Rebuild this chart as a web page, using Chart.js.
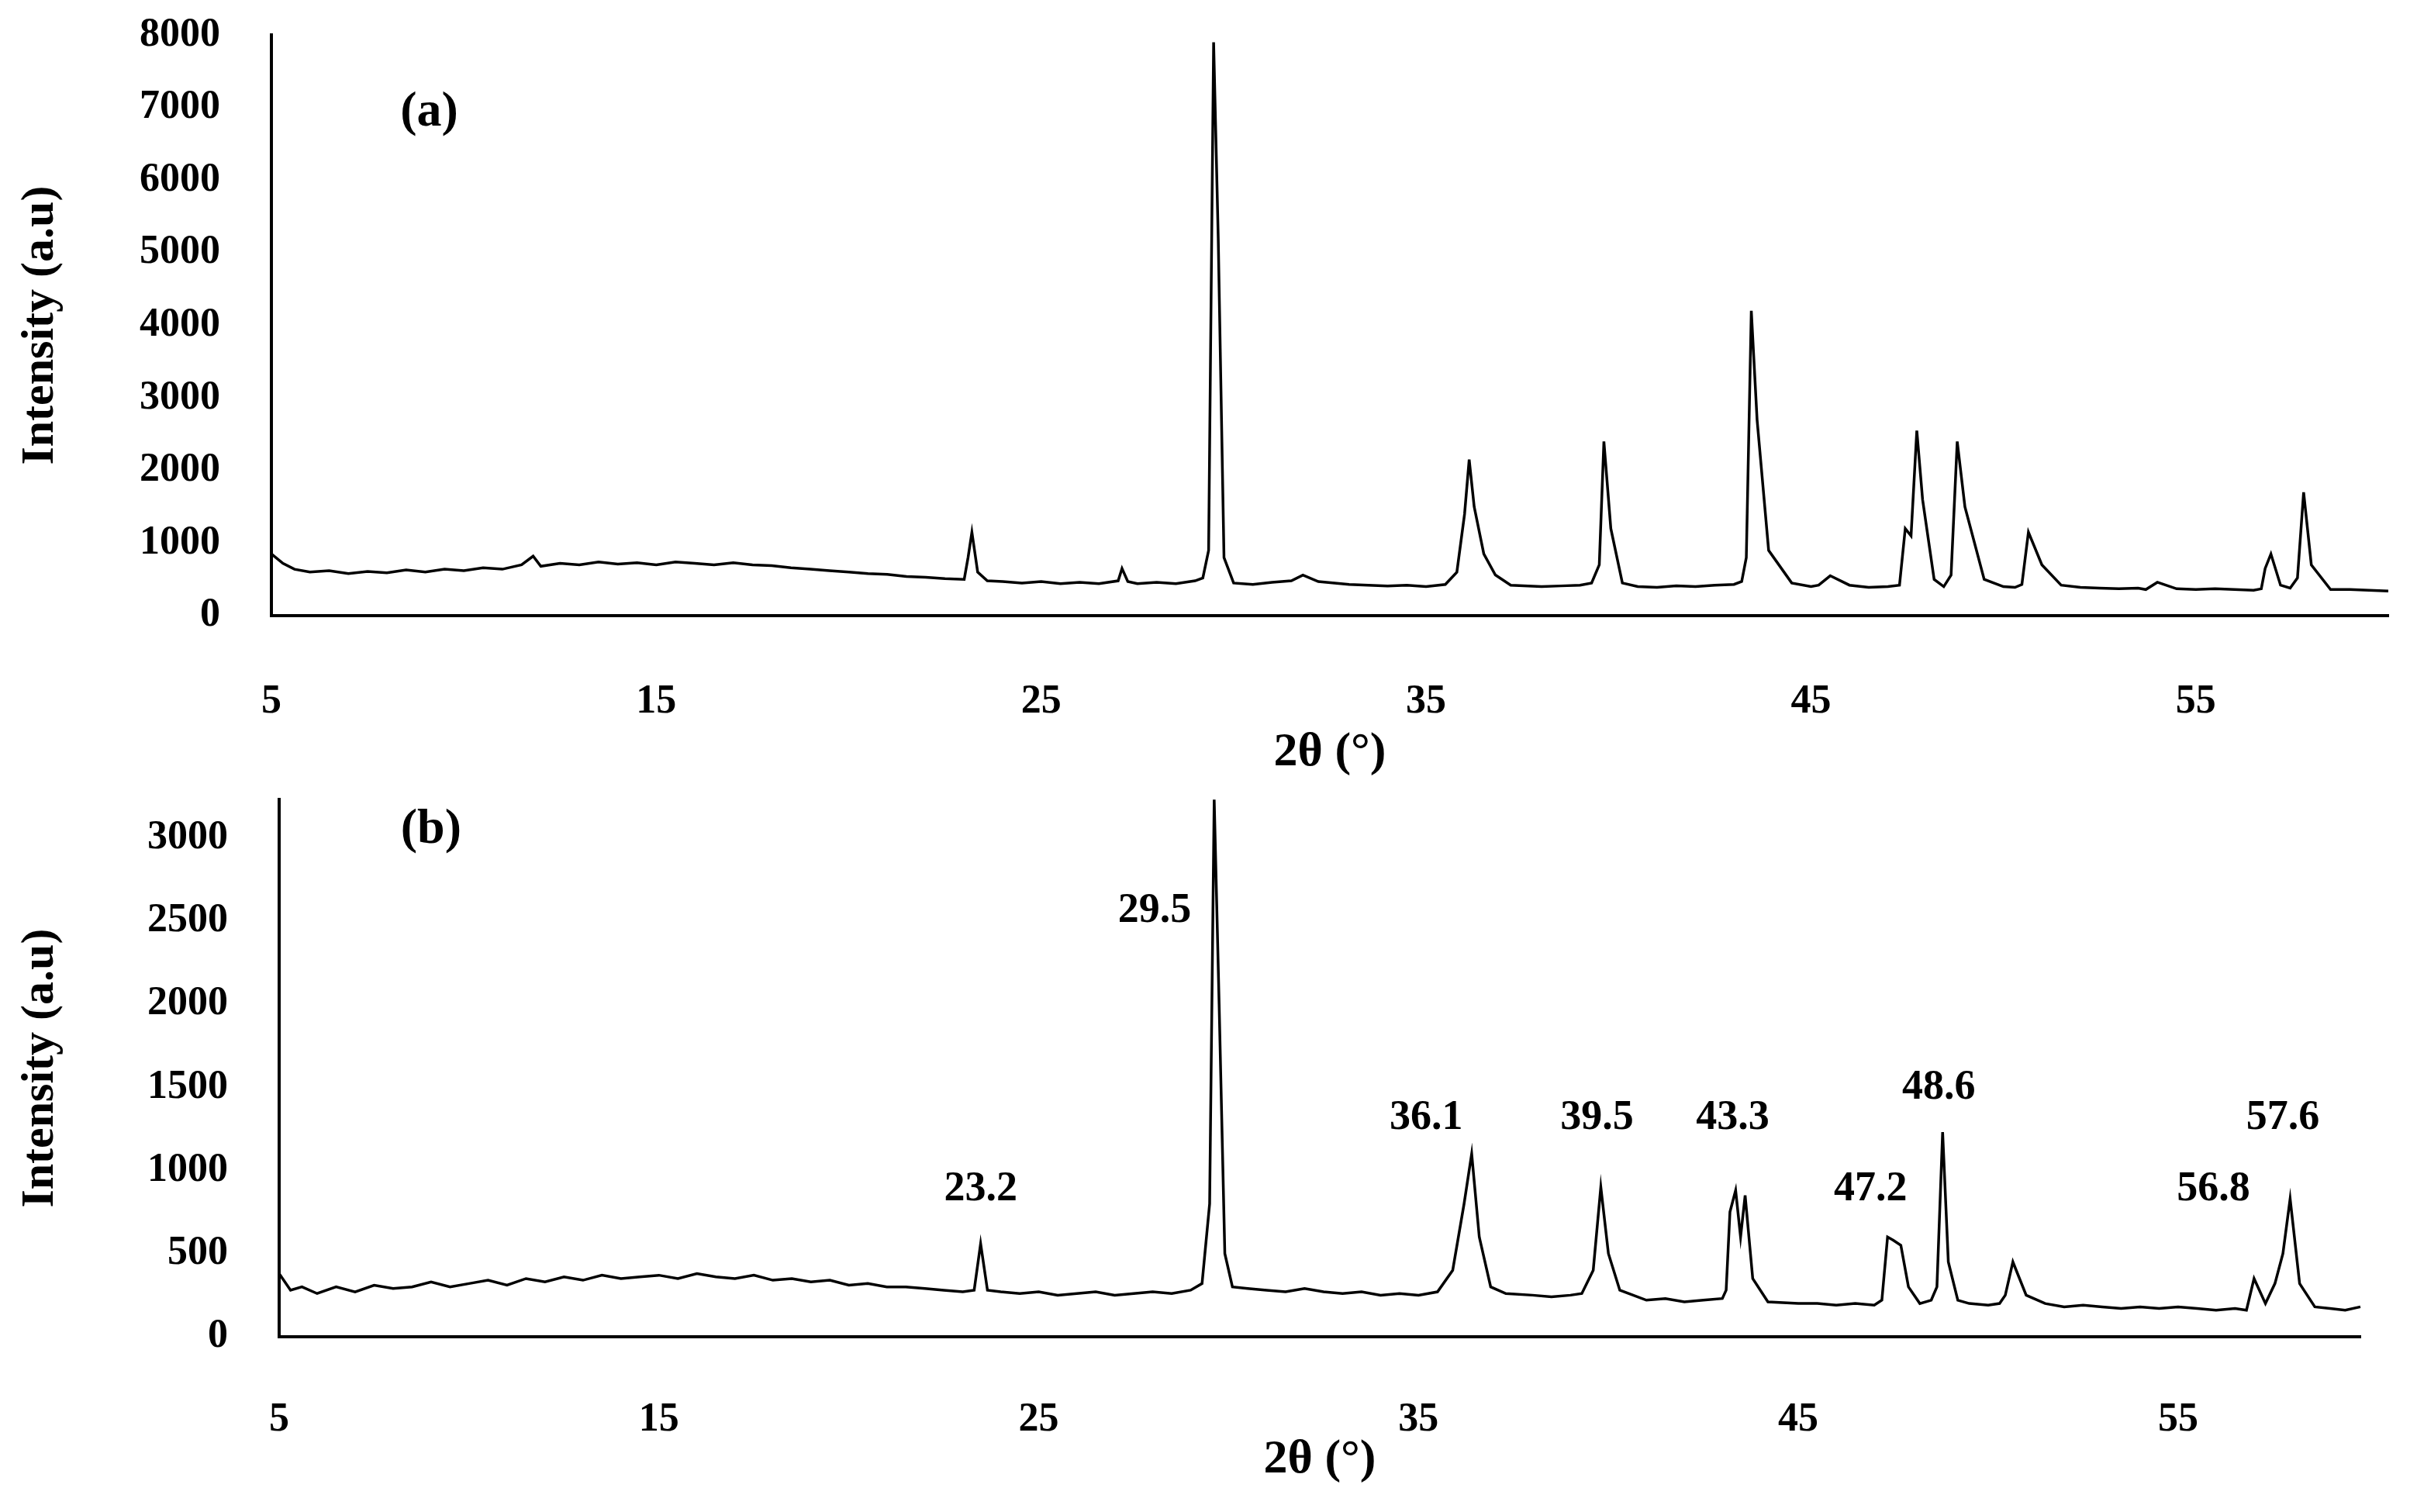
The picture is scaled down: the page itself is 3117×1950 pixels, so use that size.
<!DOCTYPE html>
<html><head><meta charset="utf-8">
<script src="https://cdn.jsdelivr.net/npm/chart.js@4.4.0/dist/chart.umd.min.js"></script>
<style>
body{margin:0;background:#fff;width:3117px;height:1950px;overflow:hidden;position:relative}
#wa{position:absolute;left:0;top:-52px;width:3117px;height:1062px}
#wb{position:absolute;left:0;top:934px;width:3117px;height:1016px}
</style></head><body>
<div id="wa"><canvas id="ca"></canvas></div>
<div id="wb"><canvas id="cb"></canvas></div>
<script>
// (a) pattern
var thetaA=[5,5.3,5.6,6,6.5,7,7.5,8,8.5,9,9.5,10,10.5,11,11.5,11.8,12,12.5,13,13.5,14,14.5,15,15.5,16,16.5,17,17.5,18,18.5,19,19.5,20,20.5,21,21.5,22,22.5,23,23.1,23.2,23.35,23.6,24,24.5,25,25.5,26,26.5,27,27.1,27.25,27.5,28,28.5,29,29.2,29.35,29.48,29.6,29.75,30,30.5,31,31.5,31.8,32.2,33,33.5,34,34.5,35,35.5,35.8,36.0,36.12,36.25,36.5,36.8,37.2,38,38.5,39,39.3,39.5,39.62,39.8,40.1,40.5,41,41.5,42,42.5,43,43.2,43.32,43.45,43.6,43.9,44.5,45,45.2,45.5,46,46.5,47,47.3,47.45,47.6,47.75,47.9,48.2,48.45,48.64,48.8,49,49.5,50,50.3,50.48,50.65,51,51.5,52,52.5,53,53.5,53.7,54,54.5,55,55.5,56,56.5,56.7,56.8,56.95,57.2,57.45,57.64,57.8,58,58.5,59,59.5,60];
var intenA=[850,720,640,600,620,580,610,590,630,600,640,620,660,640,700,820,680,720,700,740,710,730,700,740,720,700,730,700,690,660,640,620,600,580,570,540,530,510,500,800,1150,600,480,470,450,470,440,460,440,480,650,470,440,460,440,480,520,900,7900,5200,800,450,430,460,480,560,470,430,420,410,420,400,430,600,1400,2150,1500,850,560,420,400,410,420,450,700,2400,1200,450,400,390,410,400,420,430,470,800,4200,2700,900,450,400,420,550,420,390,400,420,1200,1100,2550,1600,500,400,560,2400,1500,500,400,390,430,1150,700,420,390,380,370,380,360,460,370,360,370,360,350,370,650,850,420,380,520,1700,700,360,360,350,340,350,340];
// (b) pattern
var thetaB=[5,5.3,5.6,6,6.5,7,7.5,8,8.5,9,9.5,10,10.5,11,11.5,12,12.5,13,13.5,14,14.5,15,15.5,16,16.5,17,17.5,18,18.5,19,19.5,20,20.5,21,21.5,22,22.5,23,23.3,23.47,23.65,24,24.5,25,25.5,26,26.5,27,27.5,28,28.5,29,29.3,29.5,29.62,29.75,29.9,30.1,30.5,31,31.5,32,32.5,33,33.5,34,34.5,35,35.5,35.9,36.2,36.4,36.6,36.9,37.3,38,38.5,39,39.3,39.6,39.8,40,40.3,41,41.5,42,42.5,43,43.1,43.2,43.35,43.48,43.6,43.8,44.2,45,45.5,46,46.5,47,47.2,47.35,47.5,47.7,47.9,48.2,48.5,48.65,48.8,48.95,49.2,49.5,50,50.3,50.45,50.65,51,51.5,52,52.5,53,53.5,54,54.5,55,55.5,56,56.5,56.8,57.0,57.3,57.55,57.76,57.95,58.2,58.6,59,59.4,59.8];
var intenB=[380,280,300,260,300,270,310,290,300,330,300,320,340,310,350,330,360,340,370,350,360,370,350,380,360,350,370,340,350,330,340,310,320,300,300,290,280,270,280,560,280,270,260,270,250,260,270,250,260,270,260,280,320,800,3230,2000,500,300,290,280,270,290,270,260,270,250,260,250,270,400,800,1100,600,300,260,250,240,250,260,400,900,500,280,220,230,210,220,230,280,750,880,600,850,350,210,200,200,190,200,190,220,600,580,550,300,200,220,300,1230,450,220,200,190,200,250,450,250,200,180,190,180,170,180,170,180,170,160,170,160,350,200,320,500,830,320,180,170,160,180,160];
var ticksA=[0,1000,2000,3000,4000,5000,6000,7000,8000];
var ticksB=[0,500,1000,1500,2000,2500,3000];
var ticksX=[5,15,25,35,45,55];
var peakLbl=['23.2','29.5','36.1','39.5','43.3','47.2','48.6','56.8','57.6'];
var peakLblX=[23.47,28.05,35.2,39.7,43.27,46.9,48.7,55.93,57.76];
var peakLblY=[884,2560,1316,1316,1316,884,1495,884,1316];

var textPlugin={id:'txt',afterDatasetsDraw:function(c){
	var g=c.ctx,xs=c.scales.x,ys=c.scales.y,o=c.options.plugins.txt;
	g.save();g.fillStyle='#000';g.textAlign='center';g.textBaseline='middle';
	g.font='bold 64px "Liberation Serif"';
	g.fillText(o.panel,xs.getPixelForValue(o.px),ys.getPixelForValue(o.py));
	if(o.peaks){
		g.font='bold 54px "Liberation Serif"';
		peakLbl.forEach(function(t,i){g.fillText(t,xs.getPixelForValue(peakLblX[i]),ys.getPixelForValue(peakLblY[i]))})
	}
	g.restore();
}};
function mk(id,th,iv,cfg){
	return new Chart(document.getElementById(id),{
		type:'line',
		data:{datasets:[{data:th.map(function(x,i){return {x:x,y:iv[i]}}),borderColor:'#000',borderWidth:3.5,pointRadius:0,tension:0,clip:false}]},
		options:{responsive:true,maintainAspectRatio:false,animation:false,
			layout:{padding:{top:cfg.top,right:cfg.right,left:0,bottom:0}},
			plugins:{legend:{display:false},tooltip:{enabled:false},txt:cfg.txt},
			scales:{
				x:{type:'linear',min:5,max:cfg.xmax,grid:{display:false,drawTicks:false},border:{color:'#000',width:4},
					afterBuildTicks:function(s){s.ticks=ticksX.map(function(v){return {value:v}})},
					afterFit:function(s){s.height=cfg.xh},
					ticks:{color:'#000',padding:cfg.xpad,maxRotation:0,callback:function(v){return String(v)},font:{family:'Liberation Serif',weight:'bold',size:52}},
					title:{display:true,text:'2θ (°)',color:'#000',padding:{top:0,bottom:cfg.tpad},font:{family:'Liberation Serif',weight:'bold',size:62}}},
				y:{min:0,max:cfg.ymax,grid:{display:false,drawTicks:false},border:{color:'#000',width:4},
					afterBuildTicks:function(s){s.ticks=cfg.yt.map(function(v){return {value:v}})},
					afterFit:function(s){s.width=cfg.yw},
					ticks:{color:'#000',padding:cfg.ypad,callback:function(v){return String(v)},font:{family:'Liberation Serif',weight:'bold',size:52}},
					title:{display:true,text:'Intensity (a.u)',color:'#000',padding:{top:16,bottom:0},font:{family:'Liberation Serif',weight:'bold',size:60}}}
			}
		},
		plugins:[textPlugin]
	});
}
mk('ca',thetaA,intenA,{top:0,right:37,xmax:60,ymax:8000,yt:ticksA,xh:216,yw:350,xpad:80,ypad:66,tpad:2,
	txt:{panel:'(a)',px:9.1,py:6930,peaks:false}});
mk('cb',thetaB,intenB,{top:26,right:73,xmax:59.8,ymax:3230,yt:ticksB,xh:226,yw:360,xpad:76,ypad:66,tpad:30,
	txt:{panel:'(b)',px:9.0,py:3047,peaks:true}});
</script>
</body></html>
